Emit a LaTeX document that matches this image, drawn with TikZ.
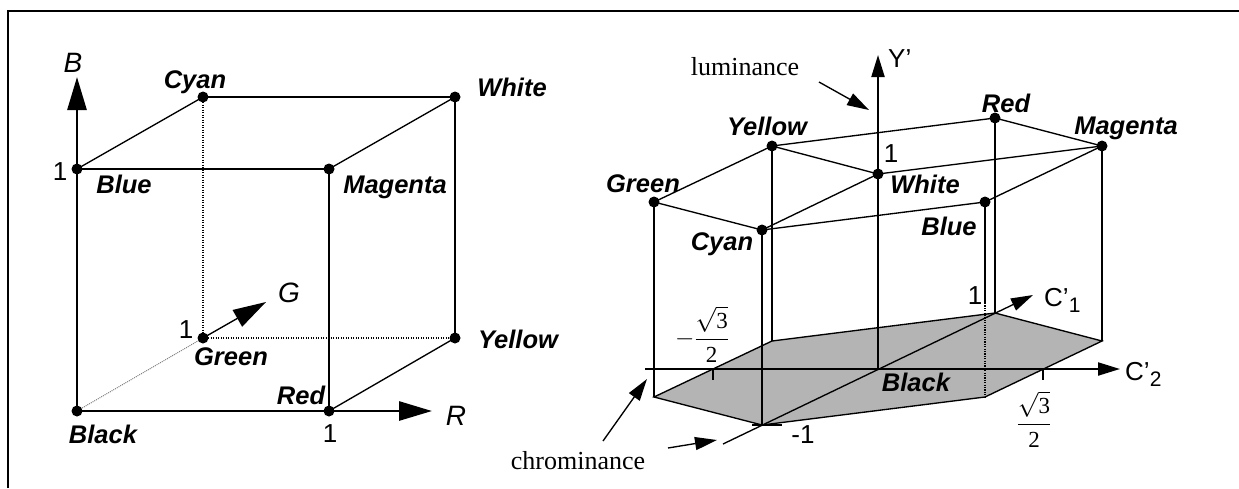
\documentclass[tikz,border=0pt]{standalone}
\usepackage{fontspec}
\setmainfont{Liberation Sans}
\newfontfamily\serifff{Liberation Serif}
\usetikzlibrary{arrows.meta}
\definecolor{hexgray}{RGB}{180,180,180}
\begin{document}
\begin{tikzpicture}[x=1pt,y=-1pt,
  thk/.style={line width=2.8pt},
  mid/.style={line width=2.1pt},
  thn/.style={line width=1.35pt},
  dotln/.style={line width=1.4pt, dash pattern=on 1.3pt off 1.2pt},
  clr/.style={font=\fontsize{25.5}{30}\selectfont\bfseries\itshape, inner sep=0pt, anchor=base},
  axl/.style={font=\fontsize{28}{32}\selectfont\itshape, inner sep=0pt, anchor=base},
  num/.style={font=\fontsize{26}{30}\selectfont, inner sep=0pt, anchor=base},
  sans/.style={font=\fontsize{26}{30}\selectfont, inner sep=0pt, anchor=base west},
  serif/.style={font=\serifff\fontsize{26}{30}\selectfont, inner sep=0pt, anchor=base},
  frac/.style={font=\serifff\fontsize{23}{26}\selectfont, inner sep=0pt, anchor=base},
  bigarrow/.style={-{Triangle[length=33pt,width=19pt]}},
  smallarrow/.style={-{Triangle[length=22pt,width=13pt]}},
]
\useasboundingbox (0,0) rectangle (1239,488);
\draw[line width=2pt] (7.5,488) -- (7.5,11) -- (1239,11);

% ---------- left cube ----------
\coordinate (Bk) at (77,411);
\coordinate (R) at (329,411);
\coordinate (Bl) at (77,169);
\coordinate (M) at (329,169);
\coordinate (C) at (203,97);
\coordinate (W) at (455,97);
\coordinate (G) at (203,338);
\coordinate (Y) at (455,338);
\coordinate (Btip) at (77,77);
\coordinate (Rtip) at (432,411);
\coordinate (Gtip) at (266,302);

\draw[gray, line width=1pt, dash pattern=on 1pt off 1pt] (Bk) -- (G);
\draw[dotln] (C) -- (G);
\draw[dotln] (G) -- (Y);
\draw[thn] (Bl) -- (C);
\draw[thn] (M) -- (W);
\draw[thn] (R) -- (Y);
\draw[thk] (Bk) -- (R);
\draw[thk] (Bk) -- (Bl);
\draw[thk] (Bl) -- (M);
\draw[thk] (M) -- (R);
\draw[thk] (C) -- (W);
\draw[thk] (W) -- (Y);
\draw[thk,bigarrow] (Bl) -- (Btip);
\draw[thk,bigarrow] (R) -- (Rtip);
\draw[thn,bigarrow] (G) -- (Gtip);
\foreach \p in {Bk,R,Bl,M,C,W,G,Y} \fill (\p) circle[radius=5.5pt];

\node[clr] (lCyan) at (195,88) {Cyan};
\node[clr] (lWhite) at (512,96) {White};
\node[clr] (lBlue) at (124,193) {Blue};
\node[clr] (lMag) at (395,193) {Magenta};
\node[clr] (lGreen) at (231,365) {Green};
\node[clr] (lYellow) at (518,348) {Yellow};
\node[clr] (lRed) at (301,404) {Red};
\node[clr] (lBlack) at (103,443) {Black};
\node[axl] (aB) at (73,72) {B};
\node[axl] (aR) at (456,425) {R};
\node[axl] (aG) at (289,302) {G};
\node[num] (n1) at (60,180) {1};
\node[num] (n2) at (186,338) {1};
\node[num] (n3) at (330,442) {1};

% ---------- right hexagon ----------
\coordinate (K) at (878,369);
\coordinate (tW) at (878,174);
\coordinate (tR) at (995,118);
\coordinate (tM) at (1102,146);
\coordinate (tB) at (985,202);
\coordinate (tC) at (762,230);
\coordinate (tG) at (654,202);
\coordinate (tY) at (772,146);
\coordinate (bR) at (995,313);
\coordinate (bM) at (1102,341);
\coordinate (bB) at (985,397);
\coordinate (bC) at (762,425);
\coordinate (bG) at (654,397);
\coordinate (bY) at (772,341);
\coordinate (bBs) at (985,303);
\coordinate (Ytip) at (878,55);
\coordinate (C2a) at (645,369);
\coordinate (C2tip) at (1120,369);
\coordinate (C1a) at (723,444);
\coordinate (C1tip) at (1033,295);

\fill[hexgray] (bG) -- (bY) -- (bR) -- (bM) -- (bB) -- (bC) -- cycle;
\draw[thn] (bG) -- (bY) -- (bR) -- (bM) -- (bB) -- (bC) -- cycle;

\draw[thn] (tG) -- (tY) -- (tR) -- (tM) -- (tB) -- (tC) -- cycle;
\draw[thn] (tY) -- (tW) -- (tM);
\draw[thn] (tW) -- (tC);

\draw[mid] (tG) -- (bG);
\draw[mid] (tY) -- (bY);
\draw[mid] (tC) -- (bC);
\draw[mid] (tR) -- (bR);
\draw[mid] (tM) -- (bM);
\draw[mid] (tB) -- (bBs);
\draw[line width=1.2pt, dash pattern=on 1.2pt off 1.2pt] (bBs) -- (bB);

\draw[mid,smallarrow] (K) -- (Ytip);
\draw[mid,smallarrow] (C2a) -- (C2tip);
\draw[thn,smallarrow] (C1a) -- (C1tip);
\draw[mid] (713,369) -- (713,380);
\draw[mid] (1043,369) -- (1043,380);
\draw[mid] (752,425) -- (782,425);

\foreach \p in {tW,tR,tM,tB,tC,tG,tY} \fill (\p) circle[radius=5.5pt];

\node[clr] (rRed) at (1006,112) {Red};
\node[clr] (rMag) at (1126,134) {Magenta};
\node[clr] (rYellow) at (767,135) {Yellow};
\node[clr] (rWhite) at (925,193) {White};
\node[clr] (rGreen) at (643,192) {Green};
\node[clr] (rBlue) at (949,235) {Blue};
\node[clr] (rCyan) at (722,250) {Cyan};
\node[clr] (rBlack) at (916,391) {Black};
\node[num] (r1a) at (891,162) {1};
\node[num] (r1b) at (975,304) {1};
\node[num] (rm1) at (803,443) {-1};
\node[sans] (aY) at (888,67) {Y’};
\node[sans] (aC1) at (1044,306) {C’\raisebox{-6pt}{\fontsize{21}{21}\selectfont 1}};
\node[sans] (aC2) at (1125,380) {C’\raisebox{-6pt}{\fontsize{21}{21}\selectfont 2}};
\node[frac] (fp) at (1034,430) {$\displaystyle\frac{\sqrt{\mbox{3}}}{\mbox{2}}$};
\node[frac] (fm) at (702,345) {$\displaystyle-\frac{\sqrt{\mbox{3}}}{\mbox{2}}$};

\node[serif] (lum) at (745,75) {luminance};
\node[serif] (chr) at (578,469) {chrominance};
\coordinate (la) at (819,82);
\coordinate (lb) at (869,110);
\coordinate (ca) at (603,441);
\coordinate (cb) at (647,379);
\coordinate (cc) at (668,448);
\coordinate (cd) at (717,440);
\draw[thn,smallarrow] (la) -- (lb);
\draw[thn,smallarrow] (ca) -- (cb);
\draw[thn,smallarrow] (cc) -- (cd);
\end{tikzpicture}
\end{document}
